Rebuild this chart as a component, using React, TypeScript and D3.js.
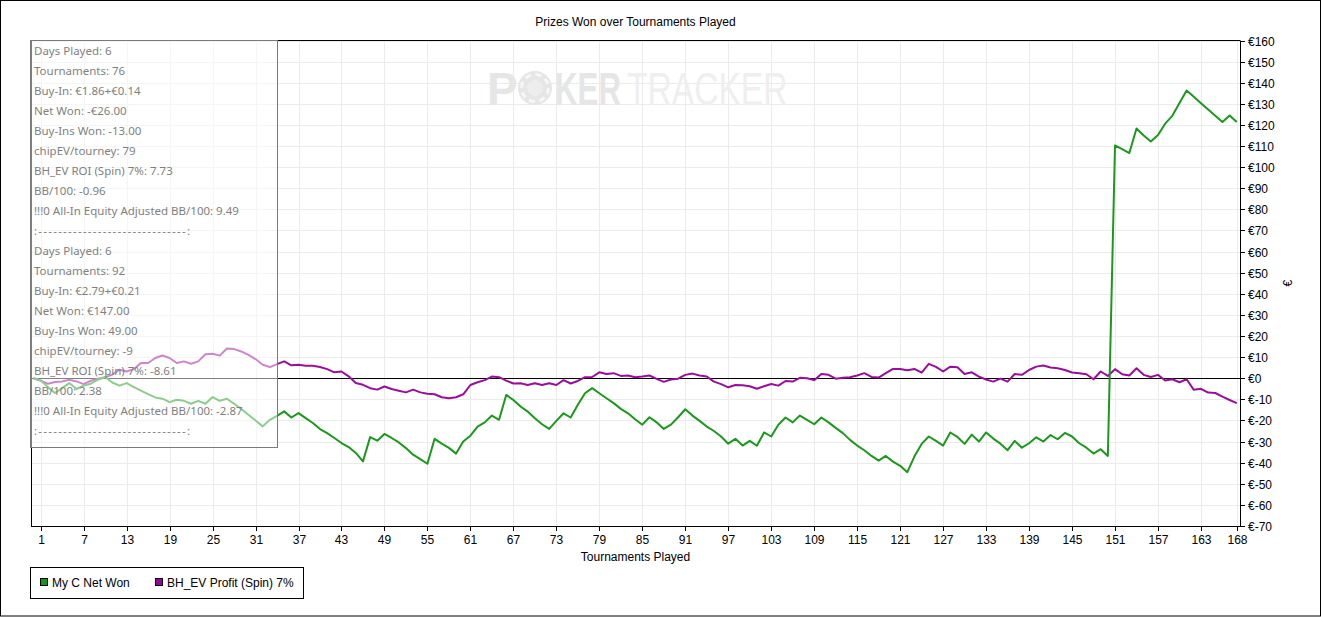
import React from 'react';
import * as d3 from 'd3';

// tournaments played: 0 .. 168
const tournaments = d3.range(0, 169);

const netWon = [
  0, -1, -4.2, -7, -4.7, -2.3, -5.1, -3.5, -2.6, -0.7,
  0.6, -2, -3.5, -2.3, -4.2, -5.9, -7.5, -9.1, -9.7, -11.3,
  -10.2, -10.7, -12.1, -10.7, -12.1, -8.9, -10.7, -9.7, -12.1, -14.6,
  -17.3, -20, -22.8, -19.7, -17.8, -15.7, -18.6, -16.5, -18.9, -21.2,
  -24.1, -26, -28.3, -30.7, -32.6, -35.4, -39.4, -27.9, -29.6, -26.4,
  -28.3, -30.4, -33.1, -36.2, -38.3, -40.5, -28.7, -31, -33, -35.7,
  -30, -27.2, -22.9, -20.9, -17.7, -19.7, -7.9, -10.3, -13.4, -15.8,
  -19, -21.8, -24, -20.2, -16.6, -18.6, -12.6, -7.1, -4.7, -7.1,
  -9.5, -11.8, -14.5, -16.6, -19.4, -22, -18.5, -20.9, -24, -22,
  -18.5, -14.7, -17.7, -20.2, -22.9, -25, -27.6, -31, -28.7, -31.9,
  -29.7, -32, -25.7, -27.6, -22, -18.6, -20.9, -17.7, -19.7, -21.8,
  -18.6, -20.9, -23.5, -26, -29.2, -31.9, -34.1, -36.8, -39, -36.8,
  -39.5, -41.5, -44.5, -37, -31.1, -27.6, -29.7, -31.9, -25.7, -27.8,
  -31.1, -26.7, -30, -25.7, -28.6, -31, -34.1, -29.7, -32.9, -30.8,
  -28, -30, -26.9, -28.9, -25.9, -27.6, -30.8, -32.9, -35.7, -33.6,
  -36.8, 110.3, 108.5, 106.7, 118.3, 115, 112.2, 115.2, 120.6, 124.3,
  130.4, 136.3, 133.3, 130.3, 127.3, 124.4, 121.4, 124.5, 121.4,
];

const bhEvProfit = [
  0, -1.2, -2.6, -1.8, -1.5, -0.7, -1.5, -2.8, -1.2, -0.2,
  0.4, 1.7, 4, 3.2, 4.3, 7.2, 7.2, 9.6, 10.8, 9.6,
  7.2, 8, 6.9, 8, 11.4, 11.6, 10.7, 14.1, 13.8, 12.7,
  11.1, 9.1, 6.4, 5.3, 6.7, 8, 6.1, 6.4, 5.9, 5.9,
  5.3, 4.3, 2.8, 3.2, 0.9, -2.3, -3.1, -4.7, -5.4, -3.9,
  -5.1, -5.9, -6.7, -5.4, -6.7, -7.3, -7.6, -9, -9.5, -9,
  -7.6, -3.2, -1.9, -0.9, 0.8, 0.5, -1.1, -2.5, -2.4, -3.2,
  -2.4, -3.2, -2.4, -3.2, -0.9, -2.5, -1.3, 0.5, 0.6, 2.8,
  2, 2.4, 1.1, 1.3, 0.5, 0.8, 1.3, -0.3, -1.7, -0.6,
  -0.2, 1.6, 2.2, 1.3, 0.8, -1.6, -2.8, -4.3, -3.2, -3.3,
  -3.8, -5, -3.8, -2.7, -3.5, -1.3, -1.6, 0.2, 0, -0.9,
  2, 1.6, -0.2, 0.2, 0.5, 1.3, 2.4, 0.6, 0.3, 2.4,
  4.4, 4.4, 3.8, 4.4, 2.7, 6.8, 5.4, 3.2, 5.5, 5.2,
  2, 2.8, 0.8, -0.6, -1.6, -0.2, -1.6, 2, 1.6, 3.9,
  5.5, 6, 5.1, 4.7, 3.9, 2.7, 2.4, 1.9, -0.5, 3.2,
  1.1, 4.3, 1.9, 1.3, 4.7, 1.6, 0.6, 1.6, -1.1, -0.5,
  -1.9, -0.5, -5.5, -5, -6.8, -7, -8.7, -10.3, -11.8,
];

const xTicks = [1, 7, 13, 19, 25, 31, 37, 43, 49, 55, 61, 67, 73, 79, 85, 91, 97, 103, 109, 115, 121, 127, 133, 139, 145, 151, 157, 163, 168];
const yTicks = [-70, -60, -50, -40, -30, -20, -10, 0, 10, 20, 30, 40, 50, 60, 70, 80, 90, 100, 110, 120, 130, 140, 150, 160];

const seriesNames = ['My C Net Won', 'BH_EV Profit (Spin) 7%'];
const seriesColours = ['#1c981c', '#990f99'];
const legendColours = ['#119911', '#990099'];

const tooltipLines = [
  'Days Played: 6',
  'Tournaments: 76',
  'Buy-In: €1.86+€0.14',
  'Net Won: -€26.00',
  'Buy-Ins Won: -13.00',
  'chipEV/tourney: 79',
  'BH_EV ROI (Spin) 7%: 7.73',
  'BB/100: -0.96',
  '!!!0 All-In Equity Adjusted BB/100: 9.49',
  ':------------------------------:',
  'Days Played: 6',
  'Tournaments: 92',
  'Buy-In: €2.79+€0.21',
  'Net Won: €147.00',
  'Buy-Ins Won: 49.00',
  'chipEV/tourney: -9',
  'BH_EV ROI (Spin) 7%: -8.61',
  'BB/100: 2.38',
  '!!!0 All-In Equity Adjusted BB/100: -2.87',
  ':------------------------------:',
];

const W = 1325;
const H = 617;
const margin = { top: 40.5, right: 85, bottom: 91, left: 31 };
const axisFont = '"Liberation Sans", Arial, sans-serif';

const euro = (v: number) => (v < 0 ? `€-${-v}` : `€${v}`);

export default function App() {
  const x = d3.scaleLinear().domain([-0.35, 168.45]).range([margin.left, W - margin.right]);
  const y = d3.scaleLinear().domain([-70, 160]).range([H - margin.bottom, margin.top]);
  const [x0, x1] = x.range();
  const [yb, yt] = y.range();

  const line = d3.line<number>()
    .x((_, i) => x(tournaments[i]))
    .y((d) => y(d));

  const series = [netWon, bhEvProfit];

  return (
    <div style={{ position: 'fixed', left: 0, top: 0 }}>
      <svg width={W} height={H} style={{ display: 'block', background: '#fff' }}>
        <rect x={0.5} y={0.5} width={1320} height={615.5} fill="#fff" stroke="#000" />

        <text x={(x0 + x1) / 2} y={26} textAnchor="middle" fontFamily={axisFont} fontSize={12} fill="#000">
          Prizes Won over Tournaments Played
        </text>

        {/* grid */}
        <g stroke="#ebebeb" strokeWidth={1}>
          {yTicks.map((t) => (
            <line key={'gy' + t} x1={x0} x2={x1} y1={Math.round(y(t)) + 0.5} y2={Math.round(y(t)) + 0.5} />
          ))}
          {xTicks.map((t) => (
            <line key={'gx' + t} x1={Math.round(x(t)) + 0.5} x2={Math.round(x(t)) + 0.5} y1={yt} y2={yb} />
          ))}
        </g>

        {/* watermark */}
        <g fontFamily={axisFont} fontSize={46}>
          <text x={487} y={105} fontWeight="bold" fill="#e6e6e6">P</text>
          <circle cx={535} cy={88} r={17} fill="#e6e6e6" />
          <circle cx={535} cy={88} r={13.5} fill="none" stroke="#f7f7f7" strokeWidth={3} strokeDasharray="6 4.6" />
          <circle cx={535} cy={88} r={8} fill="#ededed" />
          <text transform="translate(555,105) scale(0.68,1)" fontWeight="bold" fill="#e6e6e6">KER</text>
          <text transform="translate(627,105) scale(0.73,1)" fill="#efefef">TRACKER</text>
        </g>

        {/* zero line */}
        <line x1={x0} x2={x1} y1={Math.round(y(0)) + 0.5} y2={Math.round(y(0)) + 0.5} stroke="#000" strokeWidth={1} />

        {/* series, green on top */}
        {[1, 0].map((k) => (
          <path key={'s' + k} d={line(series[k]) || ''} fill="none" stroke={seriesColours[k]} strokeWidth={2} strokeLinejoin="round" />
        ))}

        {/* plot frame */}
        <line x1={x0} x2={x1} y1={yt} y2={yt} stroke="#000" />
        <line x1={x0 + 0.5} x2={x0 + 0.5} y1={yt} y2={yb} stroke="#000" />
        <line x1={x0} x2={x1} y1={yb + 0.5} y2={yb + 0.5} stroke="#000" />
        <line x1={x1 + 0.5} x2={x1 + 0.5} y1={yt} y2={yb} stroke="#000" />

        {/* x axis */}
        <g fontFamily={axisFont} fontSize={12} fill="#000" textAnchor="middle">
          {xTicks.map((t) => (
            <g key={'xt' + t} transform={`translate(${Math.round(x(t)) + 0.5},${yb})`}>
              <line y1={0} y2={5} stroke="#000" />
              <text y={18}>{t}</text>
            </g>
          ))}
          <text x={(x0 + x1) / 2} y={561}>Tournaments Played</text>
        </g>

        {/* y axis (right) */}
        <g fontFamily={axisFont} fontSize={12} fill="#000">
          {yTicks.map((t) => (
            <g key={'yt' + t} transform={`translate(${x1},${Math.round(y(t)) + 0.5})`}>
              <line x1={0} x2={5} stroke="#000" />
              <text x={8} dy="0.36em">{euro(t)}</text>
            </g>
          ))}
          <text transform={`translate(1292,${(yt + yb) / 2}) rotate(-90)`} textAnchor="middle">€</text>
        </g>

        {/* legend */}
        <g fontFamily={axisFont} fontSize={12}>
          <rect x={30.5} y={567.5} width={273} height={31} fill="#fff" stroke="#000" />
          {seriesNames.map((n, i) => (
            <g key={n} transform={`translate(${i === 0 ? 40 : 155},578)`}>
              <rect x={0.5} y={0.5} width={7} height={7} fill={legendColours[i]} stroke="#000" />
              <text x={12} y={8.5} fill="#000">{n}</text>
            </g>
          ))}
        </g>

        {/* tooltip */}
        <g>
          <rect x={30.5} y={40.5} width={247} height={407} fill="#fff" fillOpacity={0.5} stroke="#7a7a7a" strokeWidth={1} />
          {tooltipLines.map((s, i) => (
            <text
              key={'tt' + i}
              x={34}
              y={55 + i * 20}
              fontFamily='"Noto Sans", "Open Sans", sans-serif'
              fontSize={11.5}
              fill="#7f7f7f"
              {...(s.startsWith(':-') ? { textLength: 156, lengthAdjust: 'spacing' } : {})}
            >
              {s}
            </text>
          ))}
        </g>
      </svg>
    </div>
  );
}
